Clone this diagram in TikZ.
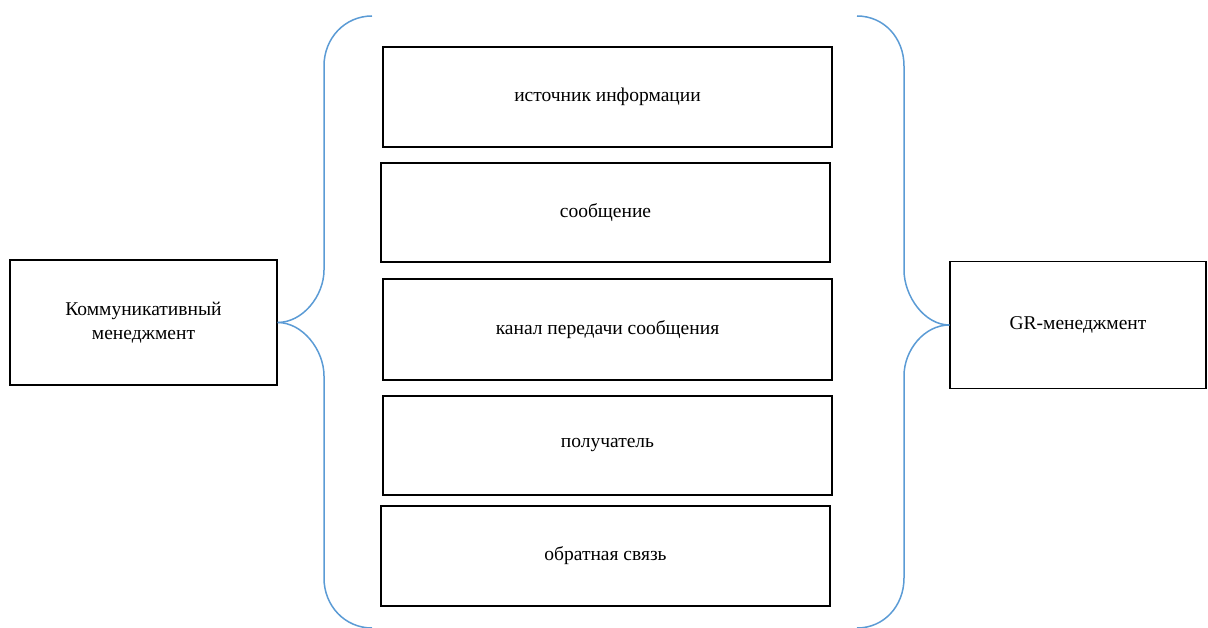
\documentclass[tikz,border=0pt]{standalone}
\usepackage{fontspec}
\setmainfont{Liberation Serif}[Script=Cyrillic]
\begin{document}
\begin{tikzpicture}[x=1pt,y=-1pt,
  box/.style={draw=black, line width=1.3pt, inner sep=0pt, font=\fontsize{19.5}{23.5}\selectfont, align=center},
  brace/.style={draw={rgb,255:red,91;green,155;blue,213}, line width=1.5pt}]
\useasboundingbox (0,0) rectangle (1208,628);

% outer boxes
\node[box, minimum width=267pt, minimum height=125pt] (L) at (143.5,322.5) {Коммуникативный\\менеджмент};
\node[box, minimum width=256pt, minimum height=127pt] (R) at (1078,325) {GR-менеджмент};

% central column
\node[box, minimum width=449pt, minimum height=100pt] (c1) at (607.5,97) {источник информации};
\node[box, minimum width=449pt, minimum height=99pt] (c2) at (605.5,212.5) {сообщение};
\node[box, minimum width=449pt, minimum height=101pt] (c3) at (607.5,329.5) {канал передачи сообщения};
\node[box, minimum width=449pt, minimum height=99pt] (c4) at (607.5,445.5) {получатель};
\node[box, minimum width=449pt, minimum height=100pt] (c5) at (605.5,556) {обратная связь};

% free ends of the braces
\coordinate (lt) at (372,16);
\coordinate (lb) at (372,628);
\coordinate (rt) at (857,16);
\coordinate (rb) at (857,628);

% left brace
\draw[brace] (L.east) .. controls +(25,0) and (324,350) .. (324,376)
  -- (324,578) .. controls (324,606) and (345,628) .. (lb);
\draw[brace] (L.east) .. controls +(25,0) and (324,296) .. (324,270)
  -- (324,66) .. controls (324,38) and (345,16) .. (lt);

% right brace
\draw[brace] (R.west) .. controls +(-25,0) and (904,350) .. (904,376)
  -- (904,578) .. controls (904,606) and (884,628) .. (rb);
\draw[brace] (R.west) .. controls +(-25,0) and (904,296) .. (904,270)
  -- (904,66) .. controls (904,38) and (884,16) .. (rt);
\end{tikzpicture}
\end{document}
